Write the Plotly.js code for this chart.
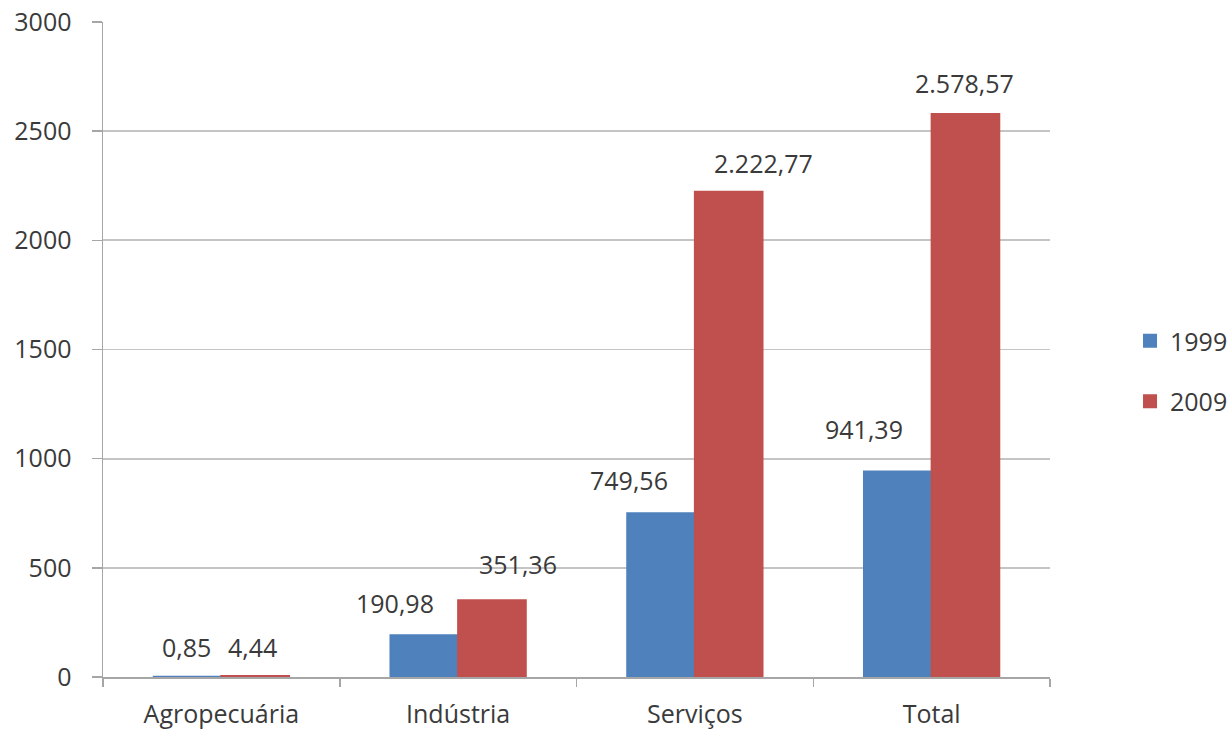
<!DOCTYPE html>
<html>
<head>
<meta charset="utf-8">
<script src="https://cdn.plot.ly/plotly-3.0.1.min.js"></script>
<style>
  html, body { margin: 0; padding: 0; background: #ffffff; }
  #chart { width: 1228px; height: 731px; }
</style>
</head>
<body>
<div id="chart"></div>
<script>
// ---- data ----
const categories = ["Agropecuária", "Indústria", "Serviços", "Total"];
const values1999 = [0.85, 190.98, 749.56, 941.39];
const values2009 = [4.44, 351.36, 2222.77, 2578.57];
const seriesNames = ["1999", "2009"];
const yTickValues = [0, 500, 1000, 1500, 2000, 2500, 3000];

// ---- style (label nudges in pixels, relative to bar centre / bar top) ----
const labelDx1999 = [-1, -29, -32, -34];
const labelDy1999 = [30, 32, 33, 42];
const labelDx2009 = [-3, 26, 35, -1];
const labelDy2009 = [29, 36, 29, 31];

const FONT = "Open Sans, Lato, sans-serif";
const TEXT = "#3a3a3a";
const BLUE = "#4F81BD";
const RED = "#C0504D";

function fmtBR(v) {
  const parts = v.toFixed(2).split(".");
  parts[0] = parts[0].replace(/\B(?=(\d{3})+(?!\d))/g, ".");
  return parts[0] + "," + parts[1];
}

const bargap = 1.5 / 3.5;
const plotW = 1228 - 103 - 178;
const halfBar = (plotW / categories.length) * (1 - bargap) / 4;

const traces = [
  { type: "bar", name: seriesNames[0], x: categories, y: values1999,
    marker: { color: BLUE, line: { color: BLUE, width: 2 } }, legendgroup: "a", hoverinfo: "x+y" },
  { type: "bar", name: seriesNames[1], x: categories, y: values2009,
    marker: { color: RED, line: { color: RED, width: 2 } }, legendgroup: "b", hoverinfo: "x+y" }
];

const annotations = [];
categories.forEach((c, i) => {
  annotations.push({
    x: c, y: values1999[i], xref: "x", yref: "y",
    text: fmtBR(values1999[i]), showarrow: false,
    xanchor: "center", yanchor: "middle",
    xshift: -halfBar + labelDx1999[i], yshift: labelDy1999[i],
    font: { family: FONT, size: 25, color: TEXT }
  });
  annotations.push({
    x: c, y: values2009[i], xref: "x", yref: "y",
    text: fmtBR(values2009[i]), showarrow: false,
    xanchor: "center", yanchor: "middle",
    xshift: halfBar + labelDx2009[i], yshift: labelDy2009[i],
    font: { family: FONT, size: 25, color: TEXT }
  });
});

const layout = {
  width: 1228, height: 731,
  margin: { l: 103, r: 178, t: 22, b: 54, pad: 0, autoexpand: false },
  paper_bgcolor: "#ffffff", plot_bgcolor: "#ffffff",
  font: { family: FONT, size: 25, color: TEXT },
  barmode: "group",
  bargap: bargap,
  bargroupgap: 0,
  showlegend: true,
  legend: {
    x: 1.0845, xanchor: "left", y: 0.467, yanchor: "middle",
    font: { family: FONT, size: 25, color: TEXT },
    traceorder: "grouped", tracegroupgap: 25,
    itemwidth: 30, bgcolor: "rgba(0,0,0,0)"
  },
  xaxis: {
    type: "category",
    automargin: false,
    showline: true, linecolor: "#a6a6a6", linewidth: 1.5,
    ticks: "outside", tickson: "boundaries", ticklen: 8, tickcolor: "#a6a6a6", tickwidth: 1.5,
    showgrid: false, zeroline: false,
    tickfont: { family: FONT, size: 25, color: TEXT },
    ticklabelstandoff: 14,
    fixedrange: true
  },
  yaxis: {
    range: [0, 3000],
    automargin: false,
    tickvals: yTickValues,
    ticktext: yTickValues.map(String),
    showline: true, linecolor: "#a6a6a6", linewidth: 1.5,
    ticks: "outside", ticklen: 10, tickcolor: "#a6a6a6", tickwidth: 1.5,
    showgrid: true, gridcolor: "#c4c4c4", gridwidth: 1.8,
    zeroline: false,
    tickfont: { family: FONT, size: 25, color: TEXT },
    ticklabelstandoff: 15,
    fixedrange: true
  },
  annotations: annotations
};

Plotly.newPlot("chart", traces, layout, { displayModeBar: false, staticPlot: true });
</script>
</body>
</html>
